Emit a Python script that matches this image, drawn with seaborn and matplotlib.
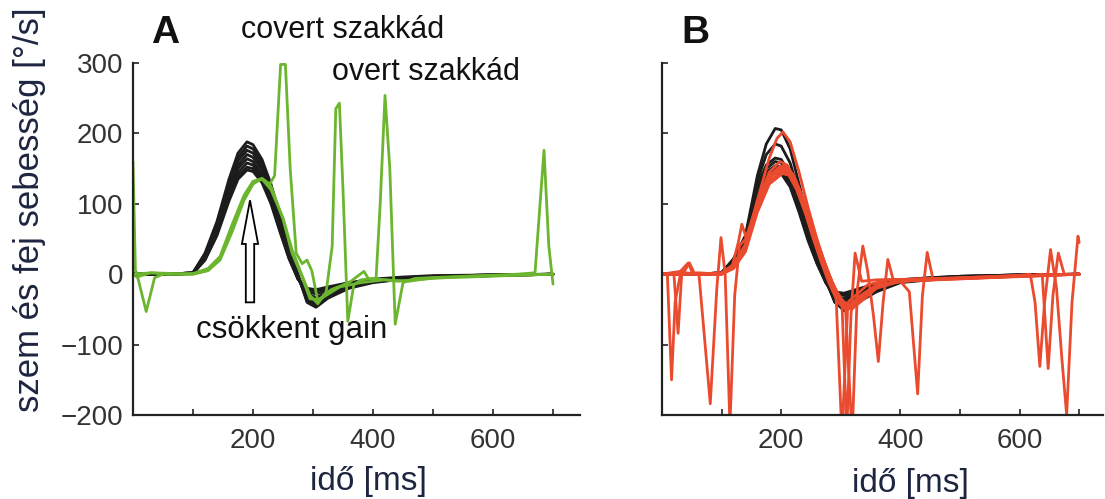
import matplotlib
matplotlib.use('Agg')
import pandas as pd
import matplotlib.pyplot as plt
import seaborn as sns
from matplotlib.patches import FancyArrow

# ---------------------------------------------------------------------------
# data : time [ms] / velocity [deg/s]
# ---------------------------------------------------------------------------
T_BLACK = [0, 60, 100, 120, 140, 160, 175, 190, 200, 215, 230, 245, 260, 275, 290, 305, 325, 360, 400, 450, 500, 600, 700]

# A: head velocity (black)
A_K1 = [0, 0, 2, 30, 75, 135, 172, 188, 184, 163, 128, 82, 38, 0, -40, -47, -34, -20, -12, -7, -4, -2, 0]
A_K2 = [0, 0, 2, 28, 72, 130, 166, 182, 178, 158, 124, 78, 35, -2, -38, -45, -33, -19, -11, -7, -4, -2, 0]
A_K3 = [0, 0, 2, 27, 70, 126, 161, 176, 172, 153, 120, 75, 32, -4, -35, -42, -31, -18, -11, -6, -4, -2, 0]
A_K4 = [0, 0, 2, 25, 66, 121, 155, 170, 166, 148, 115, 72, 30, -5, -32, -38, -29, -17, -10, -6, -3, -2, 0]
A_K5 = [0, 0, 1, 24, 63, 117, 150, 164, 160, 142, 110, 68, 27, -6, -28, -33, -26, -15, -9, -5, -3, -1, 0]
A_K6 = [0, 0, 1, 22, 60, 112, 144, 158, 155, 137, 106, 65, 25, -6, -25, -28, -23, -14, -8, -5, -3, -1, 0]
A_K7 = [0, 0, 1, 21, 57, 108, 139, 152, 150, 133, 102, 62, 23, -7, -22, -24, -20, -13, -8, -5, -3, -1, 0]
A_K8 = [0, 0, 1, 20, 55, 104, 135, 148, 146, 130, 100, 60, 22, -7, -20, -22, -18, -12, -7, -4, -2, -1, 0]

# A: eye velocity (green) with covert / overt saccades
A_G1_T = [0, 4, 10, 30, 60, 100, 125, 145, 165, 185, 200, 215, 228, 236, 246, 254, 262, 272, 282, 290, 298, 308, 322, 345, 380, 420, 460, 500, 560, 620, 660, 700]
A_G1_V = [160, 5, -3, 2, 0, 1, 8, 25, 70, 112, 132, 136, 128, 140, 298, 298, 150, 30, 15, 20, 5, -38, -30, -18, -12, -8, -10, -5, -4, -2, -1, 0]
A_G2_T = [0, 8, 22, 36, 50, 100, 125, 145, 165, 185, 200, 215, 230, 250, 265, 280, 295, 308, 322, 332, 338, 344, 350, 358, 368, 380, 400, 440, 500, 560, 620, 700]
A_G2_V = [0, -5, -53, -5, 0, 0, 6, 22, 62, 108, 130, 135, 120, 80, 35, 2, -30, -42, -25, 40, 235, 243, 120, -67, -15, -8, -6, -10, -6, -3, -2, 0]
A_G3_T = [0, 30, 100, 125, 145, 165, 185, 200, 215, 230, 250, 265, 280, 295, 310, 330, 360, 385, 392, 405, 412, 420, 428, 437, 450, 470, 520, 580, 640, 670, 685, 693, 700]
A_G3_V = [0, 2, 0, 5, 20, 60, 105, 128, 136, 125, 78, 30, 0, -35, -36, -22, -12, 4, -6, -8, 100, 254, 150, -71, -12, -6, -4, -2, 0, 2, 176, 40, -14]

# B: head velocity (black)
B_K1 = [0, 0, 2, 22, 55, 140, 185, 207, 205, 178, 128, 78, 35, 0, -38, -52, -42, -25, -12, -8, -5, -2, 0]
B_K2 = [0, 0, 2, 20, 52, 132, 170, 185, 182, 158, 115, 70, 30, -4, -40, -50, -38, -22, -11, -7, -5, -2, 0]
B_K3 = [0, 0, 2, 20, 50, 125, 155, 165, 163, 142, 105, 62, 25, -8, -40, -45, -35, -20, -10, -7, -4, -2, 0]
B_K4 = [0, 0, 2, 19, 48, 120, 150, 160, 158, 138, 100, 58, 22, -10, -38, -42, -32, -18, -10, -6, -4, -2, 0]
B_K5 = [0, 0, 1, 18, 47, 117, 145, 154, 152, 132, 96, 55, 20, -11, -35, -38, -28, -16, -9, -6, -4, -1, 0]
B_K6 = [0, 0, 1, 18, 46, 114, 141, 150, 148, 128, 93, 52, 18, -12, -32, -34, -26, -15, -9, -6, -3, -1, 0]
B_K7 = [0, 0, 1, 17, 45, 110, 137, 146, 145, 126, 90, 50, 16, -12, -28, -30, -24, -14, -8, -5, -3, -1, 0]
B_K8 = [0, 0, 1, 16, 44, 108, 135, 144, 143, 124, 88, 48, 15, -12, -25, -27, -22, -13, -8, -5, -3, -1, 0]

# B: eye velocity (red)
B_R1_T = [0, 9, 16, 22, 32, 44, 52, 100, 120, 140, 160, 180, 193, 203, 215, 230, 245, 260, 275, 290, 305, 318, 335, 360, 400, 460, 520, 600, 700]
B_R1_V = [0, 0, -150, -40, 5, 16, 0, 2, 14, 42, 105, 165, 193, 202, 188, 145, 95, 50, 10, -25, -45, -50, -38, -20, -10, -7, -5, -3, 0]
B_R2_T = [0, 20, 27, 33, 60, 100, 120, 140, 160, 180, 195, 205, 220, 235, 250, 265, 280, 292, 302, 312, 325, 345, 380, 450, 550, 650, 700]
B_R2_V = [0, 0, -84, 0, 2, 0, 10, 38, 95, 135, 150, 155, 142, 112, 72, 32, 0, -30, -230, -40, -30, -15, -8, -8, -4, -1, 0]
B_R3_T = [0, 40, 62, 81, 92, 99, 106, 114, 122, 130, 140, 160, 180, 198, 210, 225, 240, 255, 270, 285, 300, 315, 330, 360, 400, 500, 600, 700]
B_R3_V = [0, 2, 0, -184, -20, 52, 0, -215, -30, 40, 50, 100, 138, 150, 147, 125, 92, 52, 18, -12, -38, -46, -35, -18, -8, -6, -3, 0]
B_R4_T = [0, 38, 46, 55, 100, 118, 128, 134, 142, 160, 180, 200, 212, 228, 245, 260, 275, 290, 302, 310, 317, 324, 335, 360, 420, 500, 600, 700]
B_R4_V = [0, 5, 16, 0, 0, 12, 45, 71, 50, 102, 138, 148, 145, 122, 85, 48, 12, -22, -42, -225, -60, 30, -10, -8, -7, -5, -2, 0]
B_R5_T = [0, 100, 120, 140, 160, 180, 198, 208, 222, 238, 252, 266, 280, 295, 308, 319, 328, 337, 345, 355, 363, 371, 379, 388, 420, 480, 560, 640, 700]
B_R5_V = [0, 1, 12, 40, 98, 140, 153, 150, 130, 95, 55, 20, -12, -40, -50, -230, -20, 40, 5, -60, -124, -40, 21, -8, -7, -6, -3, -1, 0]
B_R6_T = [0, 100, 120, 140, 160, 180, 200, 212, 226, 240, 255, 270, 285, 300, 315, 330, 360, 400, 415, 429, 437, 445, 455, 480, 540, 620, 700]
B_R6_V = [0, 0, 10, 36, 92, 132, 145, 142, 120, 88, 50, 16, -15, -38, -44, -32, -15, -10, -25, -170, -30, 31, -8, -6, -5, -3, 0]
B_R7_T = [0, 100, 120, 140, 160, 180, 198, 210, 225, 240, 255, 270, 285, 300, 315, 330, 360, 400, 460, 520, 580, 618, 626, 634, 642, 652, 662, 671, 679, 688, 698, 700]
B_R7_V = [0, 1, 12, 42, 102, 145, 160, 155, 132, 98, 58, 22, -10, -36, -45, -34, -18, -10, -8, -6, -3, 0, -40, -131, -40, 35, -20, -120, -200, -40, 54, 45]
B_R8_T = [0, 100, 120, 140, 160, 180, 202, 215, 230, 245, 260, 275, 290, 305, 320, 340, 370, 420, 480, 550, 620, 638, 648, 656, 665, 675, 690, 700]
B_R8_V = [0, 0, 8, 32, 88, 128, 143, 140, 115, 80, 42, 10, -20, -40, -45, -30, -14, -9, -7, -5, -2, 0, -134, -30, 30, 0, 0, 0]

X_TICKS = [100, 200, 300, 400, 500, 600, 700]
X_LABELS = ['', '200', '', '400', '', '600', '']
Y_TICKS = [-200, -100, 0, 100, 200, 300]


def long_df(traces):
    # list of (t, v) -> one long table for seaborn
    frames = []
    for i, (t, v) in enumerate(traces):
        frames.append(pd.DataFrame({'t': t, 'v': v, 'trace': i}))
    return pd.concat(frames, ignore_index=True)


a_black = long_df([(T_BLACK, k) for k in [A_K1, A_K2, A_K3, A_K4, A_K5, A_K6, A_K7, A_K8]])
a_green = long_df([(A_G1_T, A_G1_V), (A_G2_T, A_G2_V), (A_G3_T, A_G3_V)])
b_black = long_df([(T_BLACK, k) for k in [B_K1, B_K2, B_K3, B_K4, B_K5, B_K6, B_K7, B_K8]])
b_red = long_df([(B_R1_T, B_R1_V), (B_R2_T, B_R2_V), (B_R3_T, B_R3_V), (B_R4_T, B_R4_V),
                 (B_R5_T, B_R5_V), (B_R6_T, B_R6_V), (B_R7_T, B_R7_V), (B_R8_T, B_R8_V)])

sns.set_theme(style='ticks')
plt.rcParams['font.family'] = ['Liberation Sans', 'DejaVu Sans']

W, H = 1105, 499
fig = plt.figure(figsize=(W / 100, H / 100), dpi=100)
ax1 = fig.add_axes([133 / W, 1 - 415 / H, 447 / W, 352 / H])
ax2 = fig.add_axes([662 / W, 1 - 415 / H, 441 / W, 352 / H])

BLACK = '#1c1c1c'
GREEN = '#6cb52f'
RED = '#ea4a2e'
TXT = '#1d2540'
line_kw = dict(units='trace', estimator=None, sort=False, lw=2.0, legend=False,
               solid_joinstyle='round', solid_capstyle='round')

sns.lineplot(data=a_black, x='t', y='v', color=BLACK, ax=ax1, **line_kw)
sns.lineplot(data=a_green, x='t', y='v', color=GREEN, ax=ax1, **line_kw)
sns.lineplot(data=b_black, x='t', y='v', color=BLACK, ax=ax2, **line_kw)
sns.lineplot(data=b_red, x='t', y='v', color=RED, ax=ax2, **line_kw)

for ax in [ax1, ax2]:
    ax.set_xlim(0, 745)
    ax.set_ylim(-200, 300)
    ax.set_xticks(X_TICKS)
    ax.set_xticklabels(X_LABELS)
    ax.set_yticks(Y_TICKS)
    ax.tick_params(direction='in', length=4, width=1.2, colors='#222222',
                   labelsize=20, labelcolor='#333333')
    ax.tick_params(axis='x', pad=9)
    ax.tick_params(axis='y', pad=7)
    for s in ['top', 'right']:
        ax.spines[s].set_visible(False)
    for s in ['left', 'bottom']:
        ax.spines[s].set_linewidth(1.6)
        ax.spines[s].set_color('#222222')
    ax.set_xlabel('idő [ms]', fontsize=24, color=TXT)
    ax.set_ylabel('')

ax2.set_xlim(0, 740)
ax2.set_yticklabels([])
ax1.xaxis.set_label_coords((368 - 133) / 447, -(466 - 415) / 352)
ax2.xaxis.set_label_coords((910 - 662) / 441, -(468 - 415) / 352)
ax1.set_ylabel('szem és fej sebesség [°/s]', fontsize=25, color=TXT)
ax1.yaxis.set_label_coords((46 - 133) / 447, (415 - 210) / 352)

# csökkent gain arrow (hollow)
ax1.add_patch(FancyArrow(195, -40, 0, 145, width=14, head_width=27, head_length=62,
                         length_includes_head=True, fc='white', ec='black', lw=1.3, zorder=10))

fig.text(165 / W, 1 - 33 / H, 'A', fontsize=28, fontweight='bold', ha='center', va='center', color='#111111')
fig.text(695 / W, 1 - 33 / H, 'B', fontsize=28, fontweight='bold', ha='center', va='center', color='#111111')
fig.text(343 / W, 1 - 30 / H, 'covert szakkád', fontsize=22, ha='center', va='center', color='#111111')
fig.text(426 / W, 1 - 72 / H, 'overt szakkád', fontsize=22, ha='center', va='center', color='#111111')
fig.text(292 / W, 1 - 330 / H, 'csökkent gain', fontsize=22.5, ha='center', va='center', color='#111111')

fig.savefig('out.png', dpi=100)
